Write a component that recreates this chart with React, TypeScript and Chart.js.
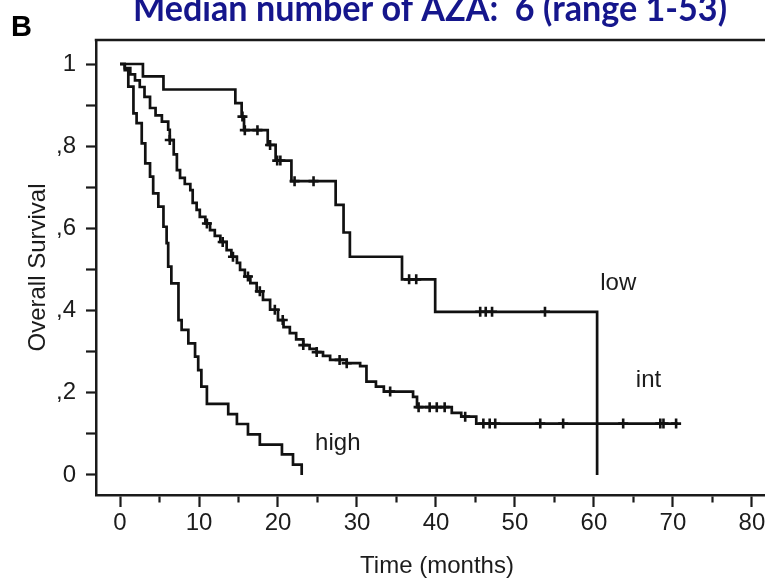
import { useEffect, useRef } from 'react';
import { Chart, registerables } from 'chart.js';

Chart.register(...registerables);

// ---- text ----
const titleText = 'Median number of AZA:  6 (range 1-53)';
const panelLetter = 'B';
const xTitle = 'Time (months)';
const yTitle = 'Overall Survival';

// ---- Kaplan-Meier curves: event times (months) and survival after each step ----
const lowTime = [0, 2.9, 5.5, 14.6, 15.4, 15.7, 18.7, 19.7, 21.7, 27.3, 28.3, 29.1, 35.7, 39.9, 60.4];
const lowSurv = [1, 0.97, 0.938, 0.905, 0.872, 0.839, 0.803, 0.765, 0.715, 0.657, 0.59, 0.531, 0.476, 0.397, 0];
const lowCensor = [15.5, 15.8, 17.4, 19.0, 19.9, 20.3, 22.1, 24.5, 36.6, 37.5, 45.6, 46.3, 47.1, 53.8];

const intTime = [0, 0.6, 1.3, 1.9, 2.5, 3.1, 3.8, 4.5, 5.3, 6.1, 6.3, 6.8, 7.2, 7.6, 8.2, 8.9, 9.2, 9.7, 10.1, 10.8,
  11.4, 12.0, 12.7, 13.5, 14.1, 14.8, 15.2, 15.8, 16.5, 17.3, 18.1, 19.0, 20.0, 20.7, 21.5, 22.3, 23.2, 24.0, 24.9,
  25.7, 26.6, 28.7, 30.4, 31.2, 32.4, 33.4, 37.1, 37.6, 42.0, 43.2, 45.1, 70.6];
const intSurv = [1, 0.99, 0.975, 0.96, 0.944, 0.92, 0.893, 0.875, 0.86, 0.84, 0.815, 0.78, 0.742, 0.723, 0.708, 0.693,
  0.662, 0.645, 0.628, 0.612, 0.596, 0.582, 0.567, 0.547, 0.531, 0.516, 0.499, 0.483, 0.467, 0.447, 0.426, 0.402,
  0.377, 0.36, 0.345, 0.33, 0.316, 0.307, 0.299, 0.29, 0.28, 0.272, 0.265, 0.227, 0.215, 0.203, 0.19, 0.165, 0.151,
  0.142, 0.125, 0.125];
const intCensor = [6.3, 11.0, 13.0, 14.3, 16.2, 17.7, 19.6, 20.6, 23.2, 24.9, 27.8, 28.7, 34.2, 37.8, 39.2, 40.1, 41.1,
  43.7, 46.0, 46.8, 47.5, 53.2, 56.1, 63.7, 68.4, 68.8, 70.4];

const highTime = [0, 0.6, 1.05, 1.7, 2.1, 2.75, 3.2, 3.8, 4.2, 4.85, 5.5, 5.9, 6.1, 6.5, 7.4, 7.8, 8.65, 9.5, 9.9,
  10.3, 11.0, 13.7, 14.8, 16.2, 17.7, 20.5, 21.9, 23.0];
const highSurv = [1, 0.985, 0.945, 0.88, 0.856, 0.807, 0.758, 0.726, 0.685, 0.653, 0.604, 0.564, 0.507, 0.466, 0.377,
  0.353, 0.32, 0.288, 0.255, 0.215, 0.173, 0.148, 0.124, 0.099, 0.074, 0.05, 0.025, 0];

// ---- curve name labels (anchored in data space: months, survival) ----
const curveLabels = ['low', 'int', 'high'];
const curveLabelTime = [60.8, 65.3, 24.7];
const curveLabelSurv = [0.467, 0.231, 0.078];

// ---- axis ranges ----
const X_MIN = -3.04;
const X_MAX = 83.3;
const Y_MIN = -0.0487;
const Y_MAX = 1.0584;

const FONT = "'Liberation Sans', Arial, Helvetica, sans-serif";
const INK = '#111';
const TEXT = '#1c1c1c';
const AXIS = '#1a1a1a';

function survAt(times: number[], surv: number[], t: number) {
  let s = surv[0];
  for (let i = 0; i < times.length; i++) {
    if (times[i] <= t) s = surv[i];
    else break;
  }
  return s;
}

function curve(times: number[], surv: number[]) {
  return {
    type: 'line' as const,
    data: times.map((t, i) => ({ x: t, y: surv[i] })),
    stepped: true,
    borderColor: INK,
    borderWidth: 2.7,
    borderJoinStyle: 'miter',
    pointRadius: 0,
    fill: false,
  };
}

function censors(times: number[], surv: number[], marks: number[]) {
  return {
    type: 'scatter' as const,
    data: marks.map((t) => ({ x: t, y: survAt(times, surv, t) })),
    showLine: false,
    pointStyle: 'cross',
    pointRadius: 5,
    pointBorderWidth: 2.6,
    pointBorderColor: INK,
    borderColor: INK,
  };
}

const decorPlugin = {
  id: 'decor',
  afterDraw(chart: any) {
    const { ctx, chartArea, scales } = chart;
    ctx.save();
    // top edge of the plot frame
    ctx.strokeStyle = AXIS;
    ctx.lineWidth = 2.5;
    ctx.beginPath();
    ctx.moveTo(chartArea.left - 1.25, chartArea.top);
    ctx.lineTo(chartArea.right, chartArea.top);
    ctx.stroke();

    // curve names
    ctx.fillStyle = TEXT;
    ctx.font = `24px ${FONT}`;
    ctx.textAlign = 'left';
    ctx.textBaseline = 'middle';
    curveLabels.forEach((lab, i) => {
      ctx.fillText(lab, scales.x.getPixelForValue(curveLabelTime[i]), scales.y.getPixelForValue(curveLabelSurv[i]));
    });

    // panel letter
    ctx.fillStyle = '#000';
    ctx.font = `bold 29px ${FONT}`;
    ctx.textBaseline = 'alphabetic';
    ctx.fillText(panelLetter, 11, 36);

    // headline, set in a condensed bold face
    ctx.font = `bold 37px Lato, 'Open Sans', sans-serif`;
    const w = ctx.measureText(titleText).width;
    const sx = 594 / w;
    ctx.fillStyle = '#15168c';
    ctx.textAlign = 'left';
    ctx.translate(133, 21);
    ctx.scale(sx, 1);
    ctx.fillText(titleText, 0, 0);
    ctx.restore();
  },
};

export default function App() {
  const ref = useRef<HTMLCanvasElement>(null);

  useEffect(() => {
    const canvas = ref.current;
    if (!canvas) return;
    const chart = new Chart(canvas, {
      type: 'line',
      data: {
        datasets: [
          curve(lowTime, lowSurv),
          curve(intTime, intSurv),
          curve(highTime, highSurv),
          censors(lowTime, lowSurv, lowCensor),
          censors(intTime, intSurv, intCensor),
        ] as any,
      },
      options: {
        responsive: false,
        animation: false,
        devicePixelRatio: 1,
        layout: { padding: { top: 40, right: 12, left: 0, bottom: 0 } },
        plugins: {
          legend: { display: false },
          tooltip: { enabled: false },
          title: { display: false },
        },
        scales: {
          x: {
            type: 'linear',
            min: X_MIN,
            max: X_MAX,
            afterFit: (s: any) => {
              s.height = 84;
            },
            border: { display: true, color: AXIS, width: 2.5 },
            grid: {
              drawOnChartArea: false,
              drawTicks: true,
              tickLength: 12,
              tickColor: AXIS,
              tickWidth: 2.2,
              tickBorderDash: (c: any) =>
                c.tick && Math.round(c.tick.value) % 10 !== 0 ? [6, 40] : [],
            },
            ticks: {
              stepSize: 5,
              autoSkip: false,
              maxRotation: 0,
              includeBounds: false,
              padding: 2,
              color: TEXT,
              font: { family: FONT, size: 24 },
              callback: (v: any) => (Math.round(v) % 10 === 0 ? String(v) : ''),
            },
            title: {
              display: true,
              text: xTitle,
              color: TEXT,
              font: { family: FONT, size: 24, lineHeight: 1 },
              padding: { top: 0, bottom: 1 },
            },
          },
          y: {
            type: 'linear',
            min: Y_MIN,
            max: Y_MAX,
            afterFit: (s: any) => {
              s.width = 96;
            },
            border: { display: true, color: AXIS, width: 2.5 },
            grid: {
              drawOnChartArea: false,
              drawTicks: true,
              tickLength: 10,
              tickColor: AXIS,
              tickWidth: 2.2,
            },
            ticks: {
              stepSize: 0.1,
              autoSkip: false,
              includeBounds: false,
              padding: 10,
              color: TEXT,
              font: { family: FONT, size: 24 },
              callback: (v: any) => {
                const k = Math.round(v * 10);
                if (k % 2 !== 0) return '';
                if (k === 0) return '0';
                if (k === 10) return '1';
                return ',' + k;
              },
            },
            title: {
              display: true,
              text: yTitle,
              color: TEXT,
              font: { family: FONT, size: 24, lineHeight: 1.2 },
              padding: { top: 24, bottom: 0 },
            },
          },
        },
      } as any,
      plugins: [decorPlugin],
    });
    return () => chart.destroy();
  }, []);

  return (
    <div
      style={{
        position: 'fixed',
        left: 0,
        top: 0,
        width: 765,
        height: 579,
        overflow: 'hidden',
        background: '#fff',
      }}
    >
      <canvas ref={ref} width={790} height={579} style={{ display: 'block', width: 790, height: 579 }} />
    </div>
  );
}
